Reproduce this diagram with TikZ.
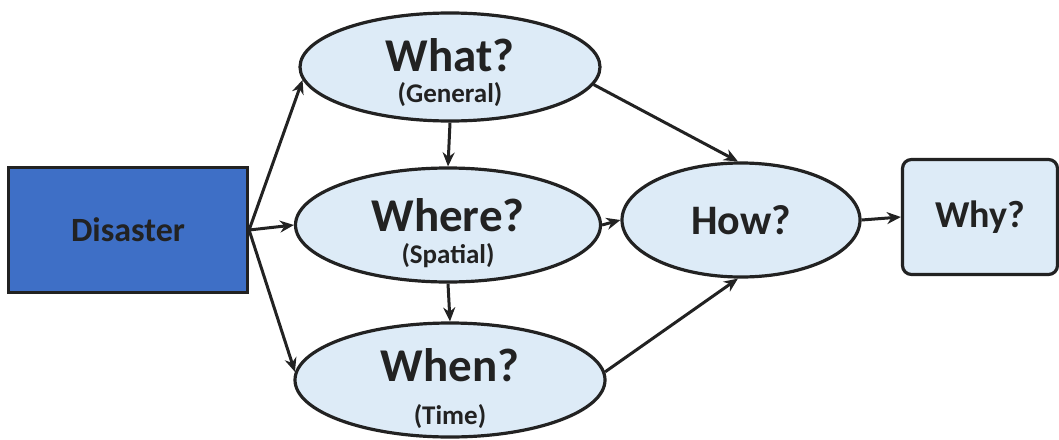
\documentclass[tikz,border=0pt]{standalone}
\usepackage{fontspec}
\setmainfont{Carlito}
\usetikzlibrary{shapes.geometric,arrows.meta}
\definecolor{dblue}{HTML}{3E6FC6}
\definecolor{lblue}{HTML}{DDEBF7}
\definecolor{ink}{HTML}{222222}
\begin{document}
\begin{tikzpicture}[x=1pt,y=-1pt,
  q/.style={ellipse, draw=ink, line width=3.2pt, fill=lblue, inner sep=0pt},
  big/.style={font=\bfseries\fontsize{47}{47}\selectfont, text=ink, inner sep=0pt},
  small/.style={font=\bfseries\fontsize{27}{27}\selectfont, text=ink, inner sep=0pt},
  arr/.style={-{Stealth[length=14pt,width=12pt]}, line width=3pt, draw=ink}]
\useasboundingbox (0,0) rectangle (1059,439);
% boxes
\node[draw=ink, line width=3.2pt, fill=dblue, minimum width=239pt, minimum height=125pt,
      font=\bfseries\fontsize{34}{34}\selectfont, text=ink] (disaster) at (128,230) {Disaster};
\node[q, minimum width=300pt, minimum height=108pt] (what) at (450,67) {};
\node[q, minimum width=305pt, minimum height=114pt] (where) at (448,225) {};
\node[q, minimum width=310pt, minimum height=114pt] (when) at (450,380) {};
\node[q, minimum width=238pt, minimum height=114pt, font=\bfseries\fontsize{42}{42}\selectfont, text=ink] (how) at (741,220) {How?};
\node[draw=ink, line width=3.2pt, fill=lblue, rounded corners=9pt, minimum width=155pt, minimum height=115pt,
      font=\bfseries\fontsize{38}{38}\selectfont, text=ink] (why) at (980,217) {Why?};
% labels
\node[big] (whatT) at ([yshift=12pt]what.center) {What?};
\node[small] (whatS) at ([yshift=-28pt]what.center) {(General)};
\node[big] (whereT) at ([yshift=10pt]where.center) {Where?};
\node[small] (whereS) at ([yshift=-31pt]where.center) {(Spatial)};
\node[big] (whenT) at ([yshift=15pt]when.center) {When?};
\node[small] (whenS) at ([yshift=-37pt]when.center) {(Time)};
% connectors
\draw[arr] (disaster.east) -- (what.185);
\draw[arr] (disaster.east) -- (where.west);
\draw[arr] (disaster.east) -- (when.177);
\draw[arr] (what.south) -- (where.north);
\draw[arr] (where.south) -- (when.north);
\draw[arr] (what.353) -- (how.93);
\draw[arr] (where.east) -- (how.west);
\draw[arr] (when.3) -- (how.267);
\draw[arr] (how.east) -- (why.west);
\end{tikzpicture}
\end{document}
